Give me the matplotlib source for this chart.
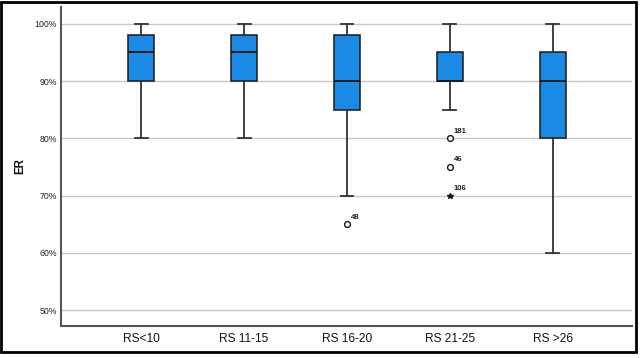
import matplotlib
matplotlib.use("Agg")
import matplotlib.pyplot as plt
from matplotlib.patches import Rectangle

plt.rcParams['font.family'] = ['Liberation Sans', 'DejaVu Sans']

categories = ["RS<10", "RS 11-15", "RS 16-20", "RS 21-25", "RS >26"]
whisker_low = [80, 80, 70, 85, 60]
q1 = [90, 90, 85, 90, 80]
median = [95, 95, 90, 90, 90]
q3 = [98, 98, 98, 95, 95]
whisker_high = [100, 100, 100, 100, 100]

outlier_group = [2, 3, 3, 3]
outlier_values = [65, 80, 75, 70]
outlier_labels = ["48", "181", "46", "106"]
outlier_markers = ["o", "o", "o", "*"]

yticks = [50, 60, 70, 80, 90, 100]
ytick_labels = ["50%", "60%", "70%", "80%", "90%", "100%"]

fig = plt.figure(figsize=(6.4, 3.58), dpi=100)
ax = fig.add_axes([0.0953, 0.0894, 0.892, 0.8906])

stats = []
for i, c in enumerate(categories):
    stats.append(dict(label=c, whislo=whisker_low[i], q1=q1[i], med=median[i],
                      q3=q3[i], whishi=whisker_high[i], fliers=[]))

positions = list(range(len(categories)))
ax.bxp(stats, positions=positions, widths=0.25, patch_artist=True,
       showfliers=False, capwidths=0.125,
       boxprops=dict(facecolor='#1a8ae4', edgecolor='#1a1a1a', linewidth=1.1),
       medianprops=dict(color='#1a1a1a', linewidth=1.4),
       whiskerprops=dict(color='#333333', linewidth=1.3),
       capprops=dict(color='#333333', linewidth=1.3))

for g, v, lab, m in zip(outlier_group, outlier_values, outlier_labels, outlier_markers):
    if m == "o":
        ax.plot(g, v, marker='o', markersize=4.2, markerfacecolor='white',
                markeredgecolor='#1a1a1a', markeredgewidth=1.0, linestyle='none', zorder=5)
    else:
        ax.plot(g, v, marker='*', markersize=4.0, color='#1a1a1a', linestyle='none', zorder=5)
    ax.annotate(lab, (g, v), xytext=(3, 4), textcoords='offset points',
                fontsize=5.6, fontweight='bold', color='#222222')

ax.set_xlim(-0.78, 4.77)
ax.set_ylim(47.26, 102.9)
ax.set_yticks(yticks)
ax.set_yticklabels(ytick_labels)
ax.set_xticks(positions)
ax.set_xticklabels(categories)
ax.yaxis.grid(True, color='#c8c8c8', linewidth=1.0)
ax.set_axisbelow(True)
ax.tick_params(axis='y', length=0, labelsize=6.3, labelcolor='#222222', pad=3)
ax.tick_params(axis='x', length=0, labelsize=8.6, labelcolor='#111111', pad=5)
for s in ['top', 'right']:
    ax.spines[s].set_visible(False)
for s in ['left', 'bottom']:
    ax.spines[s].set_color('#555555')
    ax.spines[s].set_linewidth(1.5)

fig.text(20 / 640, 1 - 166 / 358, "ER", rotation=90, ha='center', va='center',
         fontsize=8.3, fontweight='bold', color='#111111')

fig.add_artist(Rectangle((0.002, 0.0168), 0.9925, 0.978, transform=fig.transFigure,
                         fill=False, edgecolor='black', linewidth=2))

fig.savefig("out.png", dpi=100)
